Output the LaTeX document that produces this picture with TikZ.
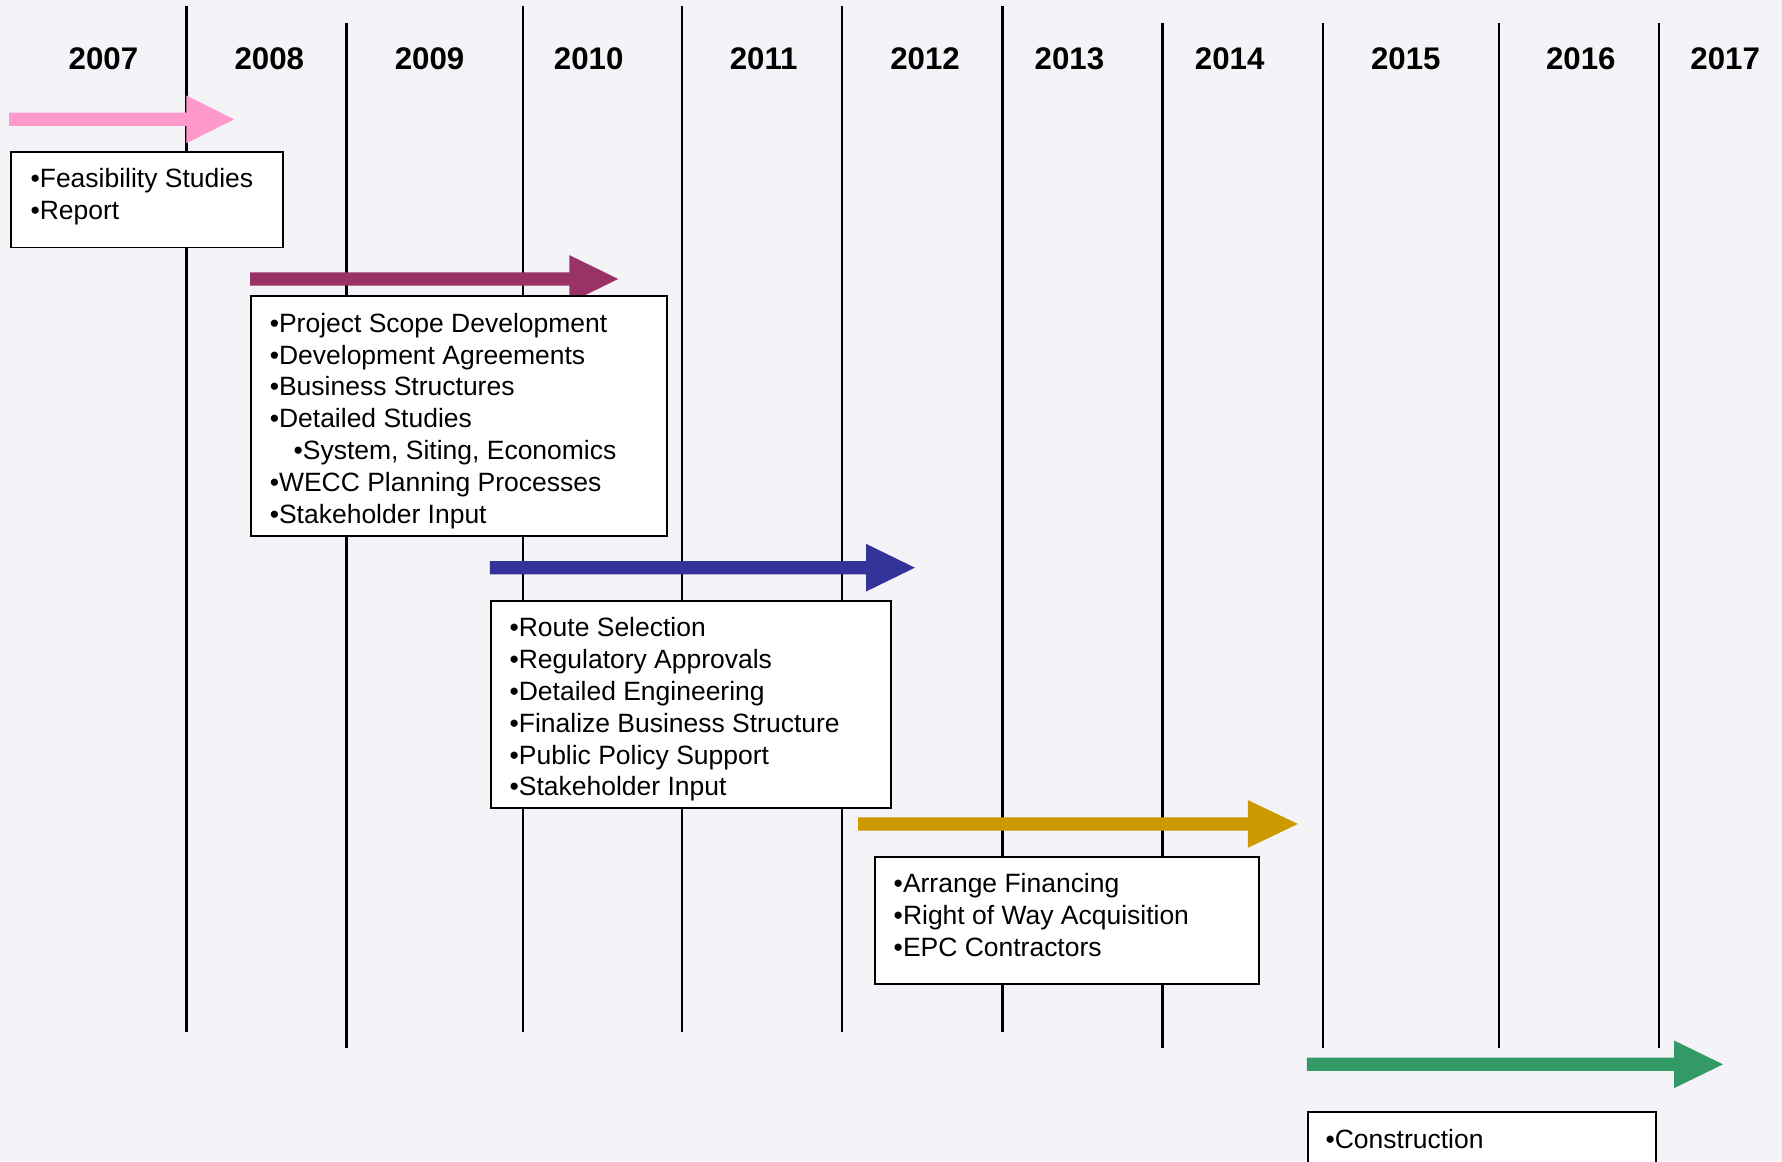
\documentclass[tikz,border=0pt]{standalone}
\usepackage{fontspec}
\setmainfont{Liberation Sans}
\usetikzlibrary{calc}
\definecolor{bgc}{HTML}{F3F3F8}
\definecolor{apink}{HTML}{FF99CC}
\definecolor{amaroon}{HTML}{993366}
\definecolor{ablue}{HTML}{333399}
\definecolor{agold}{HTML}{CC9900}
\definecolor{agreen}{HTML}{339966}
\tikzset{
  vline/.style={line width=1pt, draw=black},
  yearlbl/.style={font=\fontsize{13.75}{16}\selectfont\bfseries, inner sep=0pt},
  tlbox/.style={draw=black, line width=0.8pt, fill=white, anchor=north west, inner sep=0pt},
  items/.style={font=\fontsize{11.65}{14}\selectfont, align=left, anchor=north west, inner sep=0pt},
}
\newcommand{\tlarrow}[5]{%
  \fill[#5] (#1,#4-5.8) -- (#2,#4-5.8) -- (#2,#4-21) -- (#3,#4) -- (#2,#4+21) -- (#2,#4+5.8) -- (#1,#4+5.8) -- cycle;}
\begin{document}
\begin{tikzpicture}[x=0.5pt,y=-0.5pt]
\useasboundingbox (0,0) rectangle (1568,1022);
\clip (0,0) rectangle (1568,1022);
\fill[bgc] (0,0) rectangle (1568,1022);

% vertical year dividers
\foreach \xx/\yt/\yb in {164/5/908, 305/20/922, 460/5/908, 600/5/908, 741/5/908,
  882/5/908, 1023/20/922, 1164/20/922, 1319/20/922, 1460/20/922}
  \draw[vline] (\xx,\yt) -- (\xx,\yb);

% year labels
\foreach \yr/\xx in {2007/91, 2008/237, 2009/378, 2010/518, 2011/672, 2012/814,
  2013/941, 2014/1082, 2015/1237, 2016/1391, 2017/1518}
  \node[yearlbl] (y\yr) at (\xx,52) {\yr};

% phase arrows
\tlarrow{8}{164}{206}{105}{apink}
\tlarrow{220}{501}{544}{245.5}{amaroon}
\tlarrow{431}{762}{805}{499.5}{ablue}
\tlarrow{755}{1098}{1142}{725}{agold}
\tlarrow{1150}{1473}{1516}{936.5}{agreen}

% boxes
\node[tlbox, minimum width=119.5pt, minimum height=42pt] (b1) at (9,133) {};
\node[items] (t1) at ($(b1.north west)+(17.5,12.4)$)
  {\strut•Feasibility Studies\\ \strut•Report};

\node[tlbox, minimum width=183pt, minimum height=105.5pt] (b2) at (220,260) {};
\node[items] (t2) at ($(b2.north west)+(17,12.4)$)
  {\strut•Project Scope Development\\
   \strut•Development Agreements\\
   \strut•Business Structures\\
   \strut•Detailed Studies\\
   \strut\hspace*{10.5pt}•System, Siting, Economics\\
   \strut•WECC Planning Processes\\
   \strut•Stakeholder Input};

\node[tlbox, minimum width=176pt, minimum height=91pt] (b3) at (431,528) {};
\node[items] (t3) at ($(b3.north west)+(17,12.4)$)
  {\strut•Route Selection\\
   \strut•Regulatory Approvals\\
   \strut•Detailed Engineering\\
   \strut•Finalize Business Structure\\
   \strut•Public Policy Support\\
   \strut•Stakeholder Input};

\node[tlbox, minimum width=169pt, minimum height=56pt] (b4) at (769,753) {};
\node[items] (t4) at ($(b4.north west)+(17,12.4)$)
  {\strut•Arrange Financing\\
   \strut•Right of Way Acquisition\\
   \strut•EPC Contractors};

\node[tlbox, minimum width=153pt, minimum height=40pt] (b5) at (1150,978) {};
\node[items] (t5) at ($(b5.north west)+(16,12.4)$)
  {\strut•Construction};
\end{tikzpicture}
\end{document}
